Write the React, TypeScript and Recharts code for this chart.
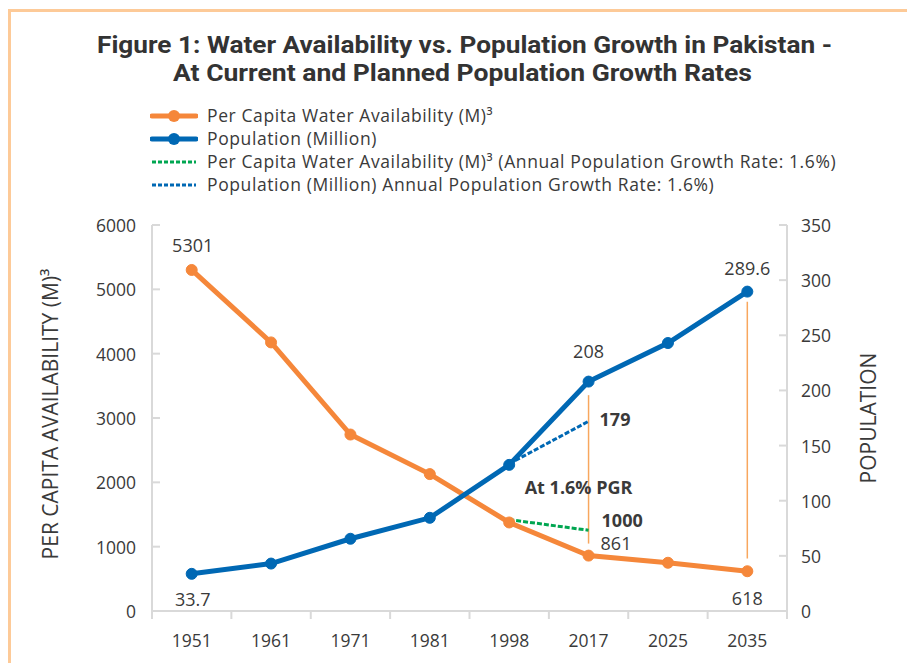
import React from 'react';
import {
  ComposedChart,
  Line,
  XAxis,
  YAxis,
  Legend,
  ReferenceLine,
  ReferenceDot,
  LabelList,
} from 'recharts';

// categories and values
const years = ['1951', '1961', '1971', '1981', '1998', '2017', '2025', '2035'];
const waterPerCapita = [5301, 4175, 2743, 2128, 1376, 861, 750, 618];
const population = [33.7, 43, 65.5, 84.5, 132.5, 208, 243, 289.6];
// projections at 1.6% annual growth (1998 -> 2017)
const waterAt16 = [null, null, null, null, 1420, 1255, null, null];
const populationAt16 = [null, null, null, null, 133.5, 172, null, null];

const waterLabels = ['5301', '', '', '', '', '861', '', '618'];
const populationLabels = ['33.7', '', '', '', '', '208', '', '289.6'];
const waterAt16Labels = ['', '', '', '', '', '1000', '', ''];
const populationAt16Labels = ['', '', '', '', '', '179', '', ''];

const leftTicks = [0, 1000, 2000, 3000, 4000, 5000, 6000];
const rightTicks = [0, 50, 100, 150, 200, 250, 300, 350];

// thin orange guides, in left-axis units
const guideYears = ['2017', '2035'];
const guideFrom = [1048, 815];
const guideTo = [3355, 4806];

const pgrNote = 'At 1.6% PGR';
const pgrNoteYear = '2017';
const pgrNoteValue = 112;

const titleLines = [
  'Figure 1: Water Availability vs. Population Growth in Pakistan -',
  'At Current and Planned Population Growth Rates',
];

const ORANGE = '#f5873a';
const BLUE = '#0068b4';
const GREEN = '#00a651';
const GUIDE = '#f8a75e';
const AXIS = '#d9d9d9';
const TEXT = '#3a3a3a';
const FONT = '"Open Sans", "Noto Sans", sans-serif';
const TITLE_FONT = 'Roboto, "Open Sans", sans-serif';

const PLOT_LEFT = 152;
const PLOT_RIGHT = 787;
const BAND = (PLOT_RIGHT - PLOT_LEFT) / years.length;
const LEGEND_H = 92;

const data = years.map((year, i) => ({
  year,
  water: waterPerCapita[i],
  pop: population[i],
  waterAt16: waterAt16[i],
  popAt16: populationAt16[i],
  waterLabel: waterLabels[i],
  popLabel: populationLabels[i],
  waterAt16Label: waterAt16Labels[i],
  popAt16Label: populationAt16Labels[i],
}));

type Pos = { dx: number; dy: number; anchor: 'start' | 'middle' | 'end' };

const waterLabelPos: Record<number, Pos> = {
  0: { dx: 1, dy: -25, anchor: 'middle' },
  5: { dx: 12, dy: -13, anchor: 'start' },
  7: { dx: 0, dy: 27, anchor: 'middle' },
};
const popLabelPos: Record<number, Pos> = {
  0: { dx: 1, dy: 25, anchor: 'middle' },
  5: { dx: 0, dy: -31, anchor: 'middle' },
  7: { dx: 0, dy: -24, anchor: 'middle' },
};
const projLabelPos: Record<number, Pos> = {
  5: { dx: 11, dy: -2, anchor: 'start' },
};
const waterProjLabelPos: Record<number, Pos> = {
  5: { dx: 13, dy: -10, anchor: 'start' },
};

const makeLabel = (pos: Record<number, Pos>, bold = false) => (props: any) => {
  const { value, index } = props;
  const p = pos[index];
  if (!value || !p) return null;
  const x = props.viewBox?.x ?? props.x;
  const y = props.viewBox?.y ?? props.y;
  return (
    <text
      x={x + p.dx}
      y={y + p.dy}
      textAnchor={p.anchor}
      dominantBaseline="central"
      fontFamily={FONT}
      fontSize={18}
      fontWeight={bold ? 700 : 400}
      fill={TEXT}
    >
      {value}
    </text>
  );
};

const XTick = (props: any) => {
  const { x, y, payload } = props;
  const half = BAND / 2;
  const last = payload.value === years[years.length - 1];
  return (
    <g>
      <line x1={x - half} x2={x - half} y1={y} y2={y + 8} stroke={AXIS} strokeWidth={2} />
      {last && <line x1={x + half} x2={x + half} y1={y} y2={y + 8} stroke={AXIS} strokeWidth={2} />}
      <text x={x} y={y + 29} textAnchor="middle" dominantBaseline="central" fontFamily={FONT} fontSize={17.5} fill={TEXT}>
        {payload.value}
      </text>
    </g>
  );
};

const LeftTick = (props: any) => {
  const { x, y, payload } = props;
  return (
    <g>
      <line x1={x} x2={x + 8} y1={y} y2={y} stroke={AXIS} strokeWidth={2} />
      <text x={x - 16} y={y} textAnchor="end" dominantBaseline="central" fontFamily={FONT} fontSize={17.5} fill={TEXT}>
        {payload.value}
      </text>
    </g>
  );
};

const RightTick = (props: any) => {
  const { x, y, payload } = props;
  return (
    <g>
      <line x1={x - 8} x2={x} y1={y} y2={y} stroke={AXIS} strokeWidth={2} />
      <text x={x + 14} y={y} textAnchor="start" dominantBaseline="central" fontFamily={FONT} fontSize={17.5} fill={TEXT}>
        {payload.value}
      </text>
    </g>
  );
};

const legendItems = [
  { label: 'Per Capita Water Availability (M)³', color: ORANGE, dotted: false },
  { label: 'Population (Million)', color: BLUE, dotted: false },
  { label: 'Per Capita Water Availability (M)³ (Annual Population Growth Rate: 1.6%)', color: GREEN, dotted: true },
  { label: 'Population (Million) Annual Population Growth Rate: 1.6%)', color: BLUE, dotted: true },
];

const renderLegend = () => (
  <div style={{ fontFamily: FONT, fontSize: 17.5, letterSpacing: 0.6, color: TEXT }}>
    {legendItems.map((item) => (
      <div key={item.label} style={{ display: 'flex', alignItems: 'center', height: 23, lineHeight: '23px', whiteSpace: 'nowrap' }}>
        <svg width={48} height={14} style={{ marginRight: 9 }}>
          {item.dotted ? (
            <line x1={2} x2={46} y1={7} y2={7} stroke={item.color} strokeWidth={3} strokeDasharray="4 2" />
          ) : (
            <>
              <line x1={2} x2={46} y1={7} y2={7} stroke={item.color} strokeWidth={5} strokeLinecap="round" />
              <circle cx={24} cy={7} r={6} fill={item.color} />
            </>
          )}
        </svg>
        <span>{item.label}</span>
      </div>
    ))}
  </div>
);

export default function App() {
  return (
    <div style={{ position: 'absolute', left: 0, top: 0, width: 907, height: 663, background: '#fff', overflow: 'hidden' }}>
      <div
        style={{
          position: 'absolute',
          left: 8,
          top: 9,
          width: 920,
          height: 680,
          borderTop: '3px solid #fdca98',
          borderLeft: '3px solid #fdca98',
        }}
      />
      <svg width={907} height={100} style={{ position: 'absolute', left: 0, top: 0 }}>
        <text
          x={97}
          y={45}
          textLength={735}
          lengthAdjust="spacingAndGlyphs"
          dominantBaseline="central"
          fontFamily={TITLE_FONT}
          fontWeight={700}
          fontSize={24}
          fill="#333"
        >
          {titleLines[0]}
        </text>
        <text
          x={173}
          y={73}
          textLength={579}
          lengthAdjust="spacingAndGlyphs"
          dominantBaseline="central"
          fontFamily={TITLE_FONT}
          fontWeight={700}
          fontSize={24}
          fill="#333"
        >
          {titleLines[1]}
        </text>
      </svg>
      <div style={{ position: 'absolute', left: 0, top: 0 }}>
        <ComposedChart
          width={907}
          height={663}
          data={data}
          margin={{ top: 225 - LEGEND_H, right: 907 - PLOT_RIGHT - 80, bottom: 12, left: PLOT_LEFT - 80 }}
        >
          <XAxis
            dataKey="year"
            height={40}
            padding={{ left: BAND / 2, right: BAND / 2 }}
            axisLine={{ stroke: AXIS, strokeWidth: 2 }}
            tickLine={false}
            tickSize={0}
            tickMargin={0}
            tick={<XTick />}
            interval={0}
          />
          <YAxis
            yAxisId="left"
            width={80}
            domain={[0, 6000]}
            ticks={leftTicks}
            axisLine={{ stroke: AXIS, strokeWidth: 2 }}
            tickLine={false}
            tickSize={0}
            tickMargin={0}
            tick={<LeftTick />}
            interval={0}
            label={{
              content: () => (
                <text
                  x={50}
                  y={414}
                  transform="rotate(-90 50 414)"
                  textAnchor="middle"
                  dominantBaseline="central"
                  fontFamily={FONT}
                  fontSize={21}
                  fill={TEXT}
                >
                  PER CAPITA AVAILABILITY (M)³
                </text>
              ),
            }}
          />
          <YAxis
            yAxisId="right"
            orientation="right"
            width={80}
            domain={[0, 350]}
            ticks={rightTicks}
            axisLine={{ stroke: AXIS, strokeWidth: 2 }}
            tickLine={false}
            tickSize={0}
            tickMargin={0}
            tick={<RightTick />}
            interval={0}
            label={{
              content: () => (
                <text
                  x={868}
                  y={418}
                  transform="rotate(-90 868 418)"
                  textAnchor="middle"
                  dominantBaseline="central"
                  fontFamily={FONT}
                  fontSize={21}
                  fill={TEXT}
                >
                  POPULATION
                </text>
              ),
            }}
          />
          <Legend
            verticalAlign="top"
            align="left"
            width={700}
            height={LEGEND_H}
            wrapperStyle={{ top: 104, left: 150 }}
            content={renderLegend}
          />
          {guideYears.map((yr, i) => (
            <ReferenceLine
              key={yr}
              yAxisId="left"
              segment={[
                { x: yr, y: guideFrom[i] },
                { x: yr, y: guideTo[i] },
              ]}
              stroke={GUIDE}
              strokeWidth={1.5}
            />
          ))}
          <Line
            yAxisId="left"
            dataKey="waterAt16"
            stroke={GREEN}
            strokeWidth={3}
            strokeDasharray="5 2"
            dot={false}
            isAnimationActive={false}
          >
            <LabelList dataKey="waterAt16Label" content={makeLabel(waterProjLabelPos, true)} />
          </Line>
          <Line
            yAxisId="right"
            dataKey="popAt16"
            stroke={BLUE}
            strokeWidth={3}
            strokeDasharray="5 2"
            dot={false}
            isAnimationActive={false}
          >
            <LabelList dataKey="popAt16Label" content={makeLabel(projLabelPos, true)} />
          </Line>
          <Line
            yAxisId="left"
            dataKey="water"
            stroke={ORANGE}
            strokeWidth={5}
            dot={{ r: 5.5, fill: ORANGE, stroke: ORANGE, strokeWidth: 1 }}
            isAnimationActive={false}
          >
            <LabelList dataKey="waterLabel" content={makeLabel(waterLabelPos)} />
          </Line>
          <Line
            yAxisId="right"
            dataKey="pop"
            stroke={BLUE}
            strokeWidth={5}
            dot={{ r: 5.5, fill: BLUE, stroke: BLUE, strokeWidth: 1 }}
            isAnimationActive={false}
          >
            <LabelList dataKey="popLabel" content={makeLabel(popLabelPos)} />
          </Line>
          <ReferenceDot
            yAxisId="right"
            x={pgrNoteYear}
            y={pgrNoteValue}
            r={0}
            fill="none"
            stroke="none"
            label={{
              value: pgrNote,
              position: 'center',
              dx: -10,
              fill: TEXT,
              fontSize: 18,
              fontWeight: 700,
              fontFamily: FONT,
            }}
          />
        </ComposedChart>
      </div>
    </div>
  );
}
